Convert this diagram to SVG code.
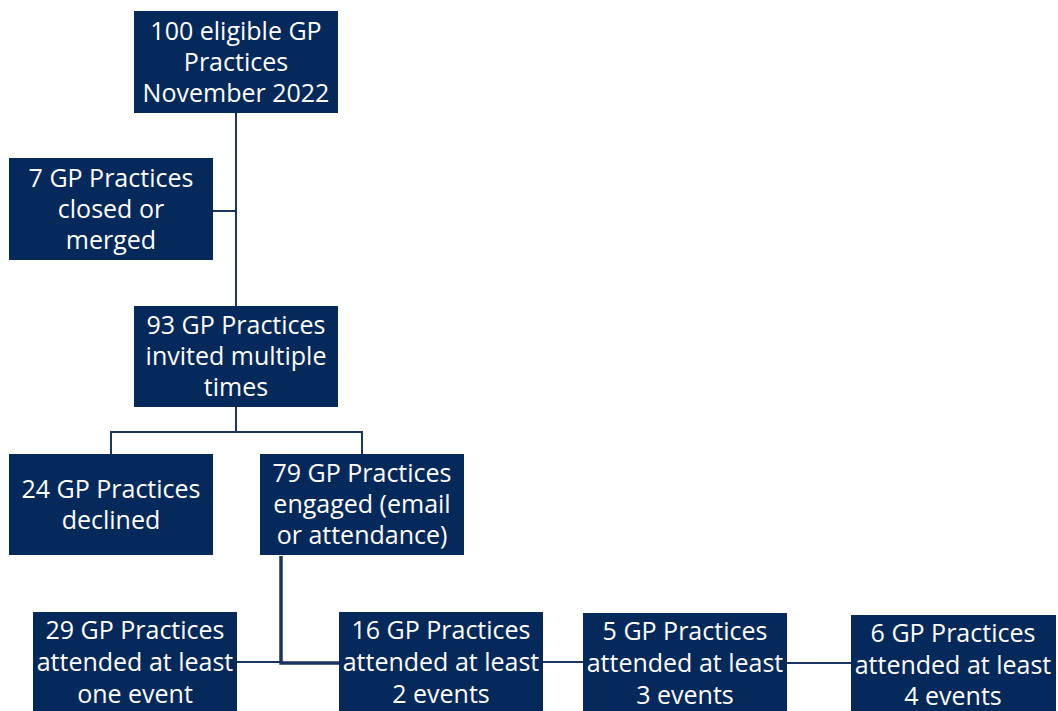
<svg xmlns="http://www.w3.org/2000/svg" width="1058" height="711" viewBox="0 0 1058 711">
<style>
.box{fill:#05295a;}
.t{fill:#ffffff;font-family:"Open Sans","Liberation Sans",sans-serif;font-size:25px;text-anchor:middle;}
.c{stroke:#1c3461;stroke-width:2;fill:none;}
.ct{stroke:#1c3461;stroke-width:3.5;fill:none;}
</style>
<rect width="1058" height="711" fill="#ffffff"/>
<g id="connectors">
<path class="c" d="M236 113 V306"/>
<path class="c" d="M213 211 H236"/>
<path class="c" d="M236 407 V432 M111 454 V432 H362 V454"/>
<path class="ct" d="M281 556 V663 H339"/>
<path class="c" d="M237 662 H281"/>
<path class="c" d="M543 662 H583"/>
<path class="c" d="M787 663 H851"/>
</g>
<g id="n100">
<rect class="box" x="134" y="11" width="204" height="102"/>
<text class="t" x="236" y="40">100 eligible GP</text>
<text class="t" x="236" y="71">Practices</text>
<text class="t" x="236" y="102">November 2022</text>
</g>
<g id="n7">
<rect class="box" x="9" y="158" width="204" height="102"/>
<text class="t" x="111" y="187">7 GP Practices</text>
<text class="t" x="111" y="218">closed or</text>
<text class="t" x="111" y="249">merged</text>
</g>
<g id="n93">
<rect class="box" x="134" y="306" width="204" height="101"/>
<text class="t" x="236" y="334">93 GP Practices</text>
<text class="t" x="236" y="365">invited multiple</text>
<text class="t" x="236" y="396">times</text>
</g>
<g id="n24">
<rect class="box" x="9" y="454" width="204" height="101"/>
<text class="t" x="111" y="498">24 GP Practices</text>
<text class="t" x="111" y="529">declined</text>
</g>
<g id="n79">
<rect class="box" x="260" y="454" width="204" height="101"/>
<text class="t" x="362" y="482">79 GP Practices</text>
<text class="t" x="362" y="513">engaged (email</text>
<text class="t" x="362" y="544">or attendance)</text>
</g>
<g id="n29">
<rect class="box" x="33" y="612" width="204" height="105"/>
<text class="t" x="135" y="639">29 GP Practices</text>
<text class="t" x="135" y="671">attended at least</text>
<text class="t" x="135" y="703">one event</text>
</g>
<g id="n16">
<rect class="box" x="339" y="612" width="204" height="105"/>
<text class="t" x="441" y="639">16 GP Practices</text>
<text class="t" x="441" y="671">attended at least</text>
<text class="t" x="441" y="703">2 events</text>
</g>
<g id="n5">
<rect class="box" x="583" y="613" width="204" height="104"/>
<text class="t" x="685" y="640">5 GP Practices</text>
<text class="t" x="685" y="672">attended at least</text>
<text class="t" x="685" y="704">3 events</text>
</g>
<g id="n6">
<rect class="box" x="851" y="615" width="205" height="102"/>
<text class="t" x="953" y="642">6 GP Practices</text>
<text class="t" x="953" y="674">attended at least</text>
<text class="t" x="953" y="705">4 events</text>
</g>
</svg>
